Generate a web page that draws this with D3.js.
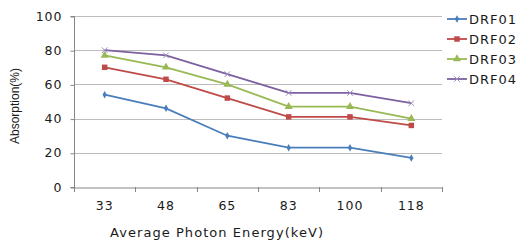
<!DOCTYPE html>
<html><head><meta charset="utf-8">
<script src="https://cdn.jsdelivr.net/npm/d3@7"></script>
<style>body{margin:0;background:#fff}svg{display:block}</style>
</head><body>
<svg id="c" width="518" height="243"></svg>
<script>
const categories = ["33","48","65","83","100","118"];
const seriesNames = ["DRF01","DRF02","DRF03","DRF04"];
const drf01 = [54,46,30,23,23,17];
const drf02 = [70,63,52,41,41,36];
const drf03 = [77,70,60,47,47,40];
const drf04 = [80,77,66,55,55,49];
const yTicks = [0,20,40,60,80,100];
const colors = ["#4A7EBB","#BE4B48","#98B954","#7D60A0"];
const symbols = ["diamond","square","triangle","x"];
const values = [drf01,drf02,drf03,drf04];

const svg = d3.select("#c");
const L=74,R=442,T=16,B=187;
const x = d3.scaleBand().domain(categories).range([L,R]);
const y = d3.scaleLinear().domain([0,100]).range([B,T]);
const font = "DejaVu Sans, sans-serif";
const txt = "#1a1a1a";

// gridlines
svg.append("g").selectAll("line").data(yTicks.slice(1)).join("line")
  .attr("x1",L).attr("x2",R).attr("y1",d=>Math.round(y(d))+0.5).attr("y2",d=>Math.round(y(d))+0.5)
  .attr("stroke","#bcbcbc").attr("stroke-width",1);

// y axis
const ya = svg.append("g").attr("transform",`translate(${L+0.5},0)`)
  .call(d3.axisLeft(y).tickValues(yTicks).tickSize(4).tickPadding(8).tickFormat(d3.format("d")));
ya.select(".domain").attr("stroke","#868686").attr("d",`M-4,${T+0.5}H0V${B+0.5}H-4`);
ya.selectAll(".tick line").attr("stroke","#868686").attr("transform","translate(0,0.5)");
ya.selectAll(".tick text").attr("font-family",font).attr("font-size",12.5).attr("letter-spacing",1).attr("fill",txt);

// x axis
const xa = svg.append("g").attr("transform",`translate(0,${B+0.5})`)
  .call(d3.axisBottom(x).tickSize(0).tickPadding(14));
xa.select(".domain").attr("stroke","#868686");
xa.selectAll(".tick text").attr("font-family",font).attr("font-size",12.5).attr("letter-spacing",1).attr("fill",txt);
const bounds = categories.map(c=>x(c)).concat([R]);
svg.append("g").selectAll("line").data(bounds).join("line")
  .attr("x1",d=>Math.round(d)+0.5).attr("x2",d=>Math.round(d)+0.5)
  .attr("y1",B).attr("y2",B+5).attr("stroke","#868686");

// lines
const line = d3.line().x((d,i)=>x(categories[i])+x.bandwidth()/2).y(d=>y(d));
const symGen = {
  diamond: d3.symbol(d3.symbolDiamond,16),
  square: d3.symbol(d3.symbolSquare,30),
  triangle: d3.symbol(d3.symbolTriangle,28),
  x: d3.symbol(d3.symbolX,22)
};
function marker(sel, si){
  sel.attr("d",symGen[symbols[si]]())
    .attr("fill",symbols[si]==="x"?"none":colors[si])
    .attr("stroke",symbols[si]==="x"?"#a08cc0":"none")
    .attr("stroke-width",1);
}
values.forEach((vals,si)=>{
  const g = svg.append("g");
  g.append("path").attr("d",line(vals)).attr("fill","none").attr("stroke",colors[si]).attr("stroke-width",1.8);
  g.selectAll("path.m").data(vals).join("path").attr("class","m")
    .attr("transform",(d,i)=>`translate(${x(categories[i])+x.bandwidth()/2},${y(d)})`)
    .call(marker, si);
});

// legend
const lg = svg.append("g");
seriesNames.forEach((n,i)=>{
  const ly = 19 + i*20;
  lg.append("line").attr("x1",447).attr("x2",467).attr("y1",ly).attr("y2",ly).attr("stroke",colors[i]).attr("stroke-width",1.8);
  lg.append("path").attr("transform",`translate(457,${ly})`).call(marker, i);
  lg.append("text").attr("x",469).attr("y",ly).attr("dy","0.36em").attr("font-family",font)
    .attr("font-size",13).attr("letter-spacing",1).attr("fill",txt).text(n);
});

// axis titles
svg.append("text").attr("x",110).attr("y",237)
  .attr("textLength",213).attr("lengthAdjust","spacing")
  .attr("font-family",font).attr("font-size",13).attr("fill",txt).text("Average Photon Energy(keV)");
svg.append("text").attr("transform",`translate(19,106) rotate(-90)`).attr("text-anchor","middle")
  .attr("font-family","Liberation Sans, Arial, sans-serif").attr("font-size",12).attr("fill",txt).text("Absorption(%)");
</script>
</body></html>
